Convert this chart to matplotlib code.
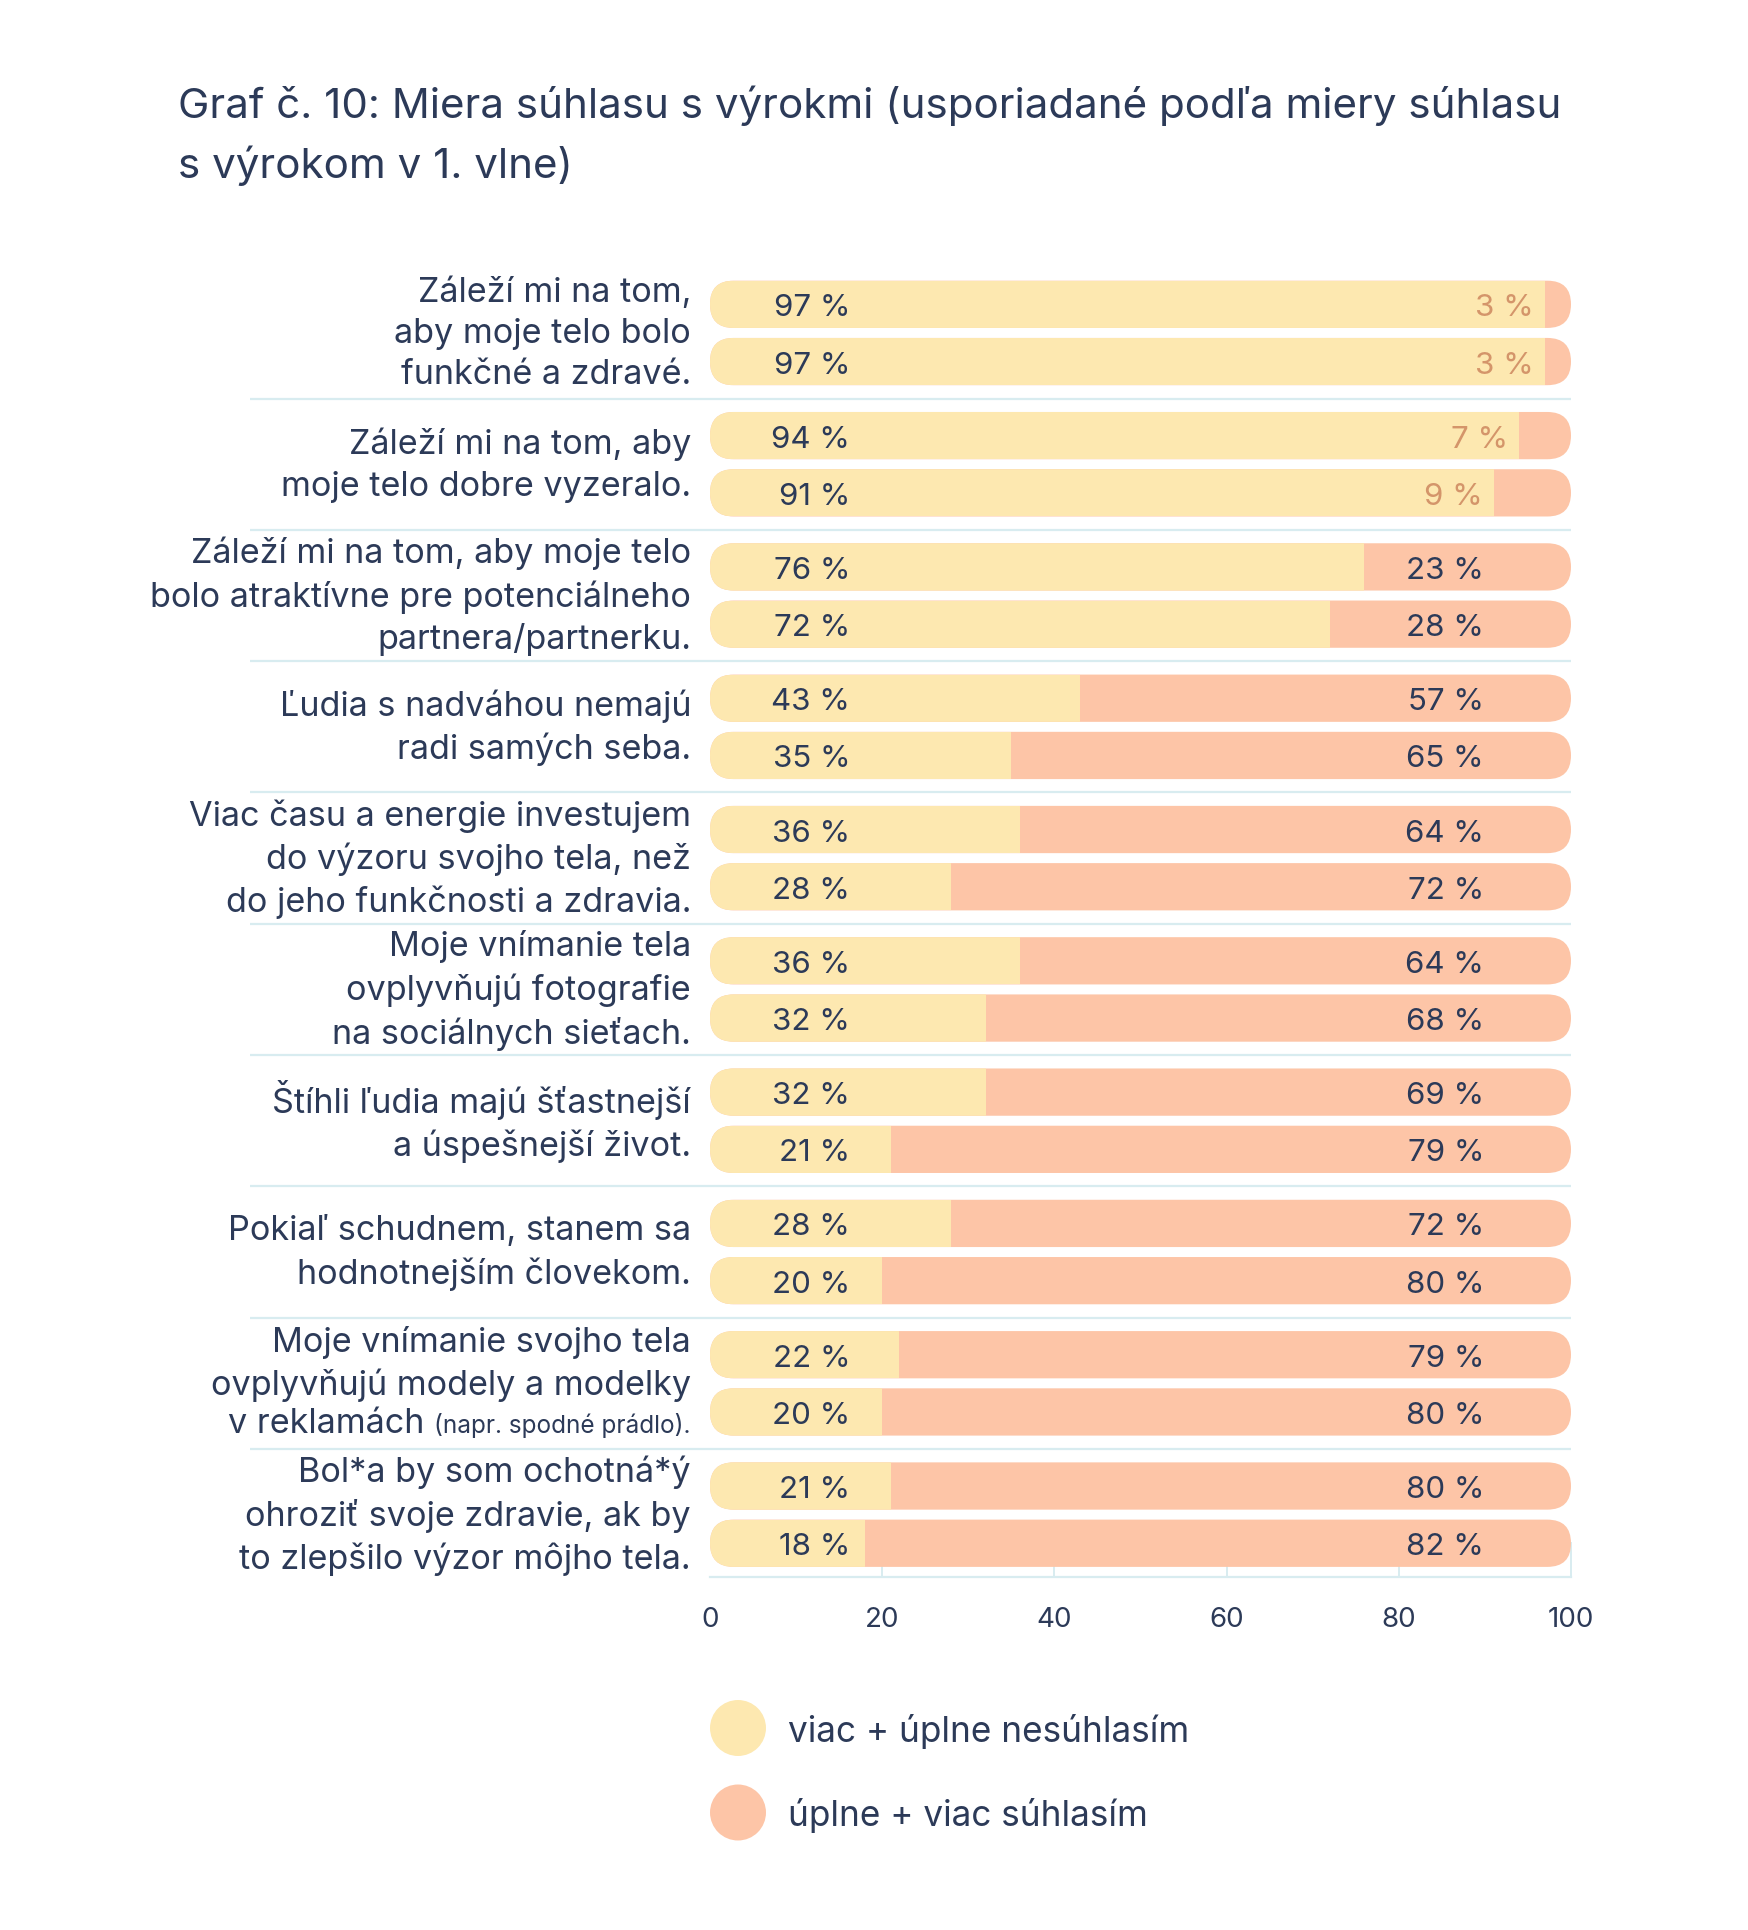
import matplotlib
matplotlib.use("Agg")
import matplotlib.pyplot as plt
from matplotlib.patches import FancyBboxPatch
from matplotlib.offsetbox import TextArea, HPacker, AnnotationBbox

# statements, ordered by agreement in wave 1
statements = [
    "Záleží mi na tom,\naby moje telo bolo\nfunkčné a zdravé.",
    "Záleží mi na tom, aby\nmoje telo dobre vyzeralo.",
    "Záleží mi na tom, aby moje telo\nbolo atraktívne pre potenciálneho\npartnera/partnerku.",
    "Ľudia s nadváhou nemajú\nradi samých seba.",
    "Viac času a energie investujem\ndo výzoru svojho tela, než\ndo jeho funkčnosti a zdravia.",
    "Moje vnímanie tela\novplyvňujú fotografie\nna sociálnych sieťach.",
    "Štíhli ľudia majú šťastnejší\na úspešnejší život.",
    "Pokiaľ schudnem, stanem sa\nhodnotnejším človekom.",
    "Moje vnímanie svojho tela\novplyvňujú modely a modelky\nv reklamách",
    "Bol*a by som ochotná*ý\nohroziť svoje zdravie, ak by\nto zlepšilo výzor môjho tela.",
]
statement_notes = ["", "", "", "", "", "", "", "", "(napr. spodné prádlo).", ""]

wave1_disagree = [97, 94, 76, 43, 36, 36, 32, 28, 22, 21]
wave1_agree = [3, 7, 23, 57, 64, 64, 69, 72, 79, 80]
wave2_disagree = [97, 91, 72, 35, 28, 32, 21, 20, 20, 18]
wave2_agree = [3, 9, 28, 65, 72, 68, 79, 80, 80, 82]

x_ticks = [0, 20, 40, 60, 80, 100]
legend_labels = ["viac + úplne nesúhlasím", "úplne + viac súhlasím"]
title_lines = ["Graf č. 10: Miera súhlasu s výrokmi (usporiadané podľa miery súhlasu",
               "s výrokom v 1. vlne)"]

NAVY = "#2c3a58"
YELLOW = "#fde8b0"
ORANGE = "#fdc5a7"
SMALL_LABEL = "#d4956a"
LINE = "#d8ecf0"
FONT = ["Inter", "DejaVu Sans"]

plt.rcParams["font.family"] = FONT

W, H = 1749, 1931
fig = plt.figure(figsize=(W / 100, H / 100), dpi=100)
ax_left, ax_right = 710, 1571
ax_bottom_px = 1578
group_px = 131.3
y_top, y_bot = -0.5, 9.475
ax_h_px = (y_bot - y_top) * group_px
ax = fig.add_axes([ax_left / W, 1 - ax_bottom_px / H, (ax_right - ax_left) / W, ax_h_px / H])
ax.set_xlim(0, 100)
ax.set_ylim(y_bot, y_top)
ax.set_axisbelow(True)

bar_h = 0.36
offset = 0.218
px_x = (ax_right - ax_left) / 100
px_y = group_px
r_x = bar_h / 2 * px_y / px_x

n = len(statements)
rows = []
for i in range(n):
    rows.append((i - offset, wave1_disagree[i], wave1_agree[i]))
    rows.append((i + offset, wave2_disagree[i], wave2_agree[i]))

ys = [r[0] for r in rows]
dis = [r[1] for r in rows]
agr = [r[2] for r in rows]

# orange track (full 0-100 capsule), yellow part clipped to it
tracks = []
for y in ys:
    track = FancyBboxPatch((0, y - bar_h / 2), 100, bar_h,
                           boxstyle=f"round,pad=0,rounding_size={r_x}",
                           mutation_aspect=px_x / px_y,
                           facecolor=ORANGE, edgecolor="none", zorder=2)
    ax.add_patch(track)
    tracks.append(track)

bars = ax.barh(ys, dis, height=bar_h, color=YELLOW, zorder=3)
for rect, track in zip(bars, tracks):
    rect.set_clip_path(track)

for y, d, a in zip(ys, dis, agr):
    ax.text(16.3, y, f"{d} %", ha="right", va="center_baseline",
            fontsize=22.5, color=NAVY, zorder=4)
    if a < 10:
        ax.text(d - 1.3, y, f"{a} %", ha="right", va="center_baseline",
                fontsize=22.5, color=SMALL_LABEL, zorder=4)
    else:
        ax.text(89.9, y, f"{a} %", ha="right", va="center_baseline",
                fontsize=22.5, color=NAVY, zorder=4)

# statement labels
line_step = 0.305
lab_size = 24.6
lab_spacing = 1.37
for i, (txt, note) in enumerate(zip(statements, statement_notes)):
    if not note:
        ax.annotate(txt, xy=(0, i), xytext=(-19, 0), textcoords="offset pixels",
                    ha="right", va="center", fontsize=lab_size, color=NAVY,
                    linespacing=lab_spacing, annotation_clip=False)
    else:
        lines = txt.split("\n")
        ax.annotate("\n".join(lines[:-1]), xy=(0, i - line_step / 2), xytext=(-19, 0),
                    textcoords="offset pixels", ha="right", va="center",
                    fontsize=lab_size, color=NAVY, linespacing=lab_spacing,
                    annotation_clip=False)
        pack = HPacker(children=[TextArea(lines[-1] + " ", textprops=dict(fontsize=lab_size, color=NAVY)),
                                 TextArea(note, textprops=dict(fontsize=17.5, color=NAVY))],
                       align="baseline", pad=0, sep=0)
        ab = AnnotationBbox(pack, (0, i + line_step), xybox=(-19, 0),
                            boxcoords="offset pixels", box_alignment=(1, 0.5),
                            frameon=False, pad=0, annotation_clip=False)
        ax.add_artist(ab)

# separators between statements
ax.hlines([i + 0.5 for i in range(n - 1)], (250 - ax_left) / (ax_right - ax_left), 1,
          transform=ax.get_yaxis_transform(), colors=LINE, linewidth=1.6, clip_on=False)

ax.set_xticks(x_ticks)
ax.set_yticks([])
ax.tick_params(axis="x", direction="in", length=25, width=1.4, color=LINE,
               labelsize=20, labelcolor=NAVY, pad=21)
ax.xaxis.get_major_ticks()[0].tick1line.set_visible(False)
for side in ["left", "top", "right"]:
    ax.spines[side].set_visible(False)
ax.spines["bottom"].set_color(LINE)
ax.spines["bottom"].set_linewidth(1.6)

# title
fig.text(178 / W, 1 - 118 / H, title_lines[0], fontsize=30.3, color=NAVY, va="baseline")
fig.text(178 / W, 1 - 178 / H, title_lines[1], fontsize=30.3, color=NAVY, va="baseline")

# legend
for k, (lab, col) in enumerate(zip(legend_labels, [YELLOW, ORANGE])):
    yc = 1 - (1729 + k * 84.5) / H
    ax.scatter([738 / W], [yc], s=1625, color=col, transform=fig.transFigure,
               clip_on=False, edgecolors="none")
    fig.text(788.5 / W, 1 - (1742 + k * 84.5) / H, lab, fontsize=25.3,
             color=NAVY, va="baseline")

fig.savefig("out.png", dpi=100, facecolor="white")
